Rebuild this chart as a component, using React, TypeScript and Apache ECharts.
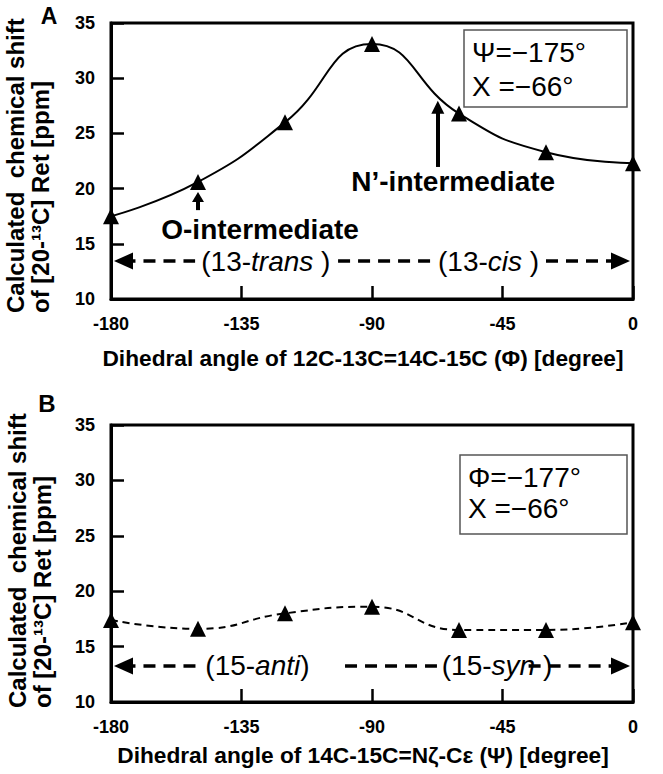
import React, { useEffect, useRef } from 'react';
import * as echarts from 'echarts';

const FONT = '"Liberation Sans", Arial, Helvetica, sans-serif';

// ---- data ----
const angleTicks = [-180, -135, -90, -45, 0];
const shiftTicks = [10, 15, 20, 25, 30, 35];
const anglesA = [-180, -150, -120, -90, -60, -30, 0];
const shiftA = [17.5, 20.6, 26.0, 33.1, 26.8, 23.3, 22.3];
const anglesB = [-180, -150, -120, -90, -60, -30, 0];
const shiftB = [17.4, 16.6, 18.0, 18.6, 16.5, 16.5, 17.2];

const titleA = 'Dihedral angle of 12C-13C=14C-15C (Φ) [degree]';
const titleB = 'Dihedral angle of 14C-15C=Nζ-Cε (Ψ) [degree]';
const yTitle1 = 'Calculated  chemical shift';
const yTitle2 = 'of [20-¹³C] Ret [ppm]';
const boxTextA = ['Ψ=−175°', 'X =−66°'];
const boxTextB = ['Φ=−177°', 'X =−66°'];
const rowTextA = ['(13-{i|trans} )', '(13-{i|cis} )'];
const rowTextB = ['(15-{i|anti})', '(15-{i|syn} )'];
const labelO = 'O-intermediate';
const labelN = 'N’-intermediate';

const BLACK = '#000';

function xAxis(gi: number) {
  return {
    type: 'value', gridIndex: gi,
    min: angleTicks[0], max: angleTicks[angleTicks.length - 1], interval: 45,
    axisLine: { show: true, onZero: false, lineStyle: { color: BLACK, width: 3 } },
    axisTick: { show: true, inside: true, length: 13, lineStyle: { color: BLACK, width: 2.5 } },
    axisLabel: { color: BLACK, fontSize: 18, fontWeight: 'bold', fontFamily: FONT, margin: 16 },
    splitLine: { show: false },
  };
}
function yAxis(gi: number) {
  return {
    type: 'value', gridIndex: gi,
    min: shiftTicks[0], max: shiftTicks[shiftTicks.length - 1], interval: 5,
    axisLine: { show: true, onZero: false, lineStyle: { color: BLACK, width: 3 } },
    axisTick: { show: true, inside: true, length: 13, lineStyle: { color: BLACK, width: 2.5 } },
    axisLabel: { color: BLACK, fontSize: 18, fontWeight: 'bold', fontFamily: FONT, margin: 16 },
    splitLine: { show: false },
  };
}

const dashStyle = { color: BLACK, width: 3.5, type: [12, 8] };
const ARROW = [17, 19];

function seg(x1: number, x2: number, y: number, startArrow: boolean, endArrow: boolean) {
  return [
    { coord: [x1, y], symbol: startArrow ? 'triangle' : 'none', symbolSize: ARROW, lineStyle: dashStyle },
    { coord: [x2, y], symbol: endArrow ? 'triangle' : 'none', symbolSize: ARROW },
  ];
}
function vArrow(x: number, y1: number, y2: number, head: number[]) {
  return [
    { coord: [x, y1], symbol: 'none', lineStyle: { color: BLACK, width: 4, type: 'solid' } },
    { coord: [x, y2], symbol: 'triangle', symbolSize: head },
  ];
}
const rich = { i: { fontStyle: 'italic', fontSize: 28, fontFamily: FONT, color: BLACK } };
function textPoint(x: number, y: number, text: string, bold: boolean) {
  return {
    coord: [x, y],
    symbol: 'rect', symbolSize: 1, itemStyle: { color: 'rgba(0,0,0,0)' },
    label: {
      show: true, position: 'inside', formatter: text, color: BLACK,
      fontSize: 28, fontWeight: bold ? 'bold' : 'normal', fontFamily: FONT, rich,
    },
  };
}

function gText(text: string, x: number, y: number, size: number, opts: any = {}) {
  return {
    type: 'text', x, y, rotation: opts.rotation || 0, z: 10,
    style: {
      text, fill: BLACK, fontSize: size, fontWeight: opts.bold ? 'bold' : 'normal', fontFamily: FONT,
      align: opts.align || 'left', verticalAlign: 'middle',
      textAlign: opts.align || 'left', textVerticalAlign: 'middle',
    },
  };
}

function buildOption() {
  const rowYA = 13.44;
  const rowYB = 13.25;
  return {
    animation: false,
    backgroundColor: '#fff',
    grid: [
      { left: 111, top: 23, width: 522, height: 276, show: true, borderColor: BLACK, borderWidth: 3, backgroundColor: 'transparent' },
      { left: 111, top: 425, width: 522, height: 277, show: true, borderColor: BLACK, borderWidth: 3, backgroundColor: 'transparent' },
    ],
    xAxis: [xAxis(0), xAxis(1)],
    yAxis: [yAxis(0), yAxis(1)],
    series: [
      {
        type: 'line', xAxisIndex: 0, yAxisIndex: 0,
        data: anglesA.map((a, i) => [a, shiftA[i]]),
        smooth: true, symbol: 'triangle', symbolSize: 16,
        itemStyle: { color: BLACK }, lineStyle: { color: BLACK, width: 2 },
        markLine: {
          silent: true, animation: false, label: { show: false }, symbol: 'none',
          lineStyle: dashStyle, itemStyle: { color: BLACK },
          data: [
            seg(-175.7, -151, rowYA, true, false),
            seg(-101.7, -68, rowYA, false, false),
            seg(-30, -4.3, rowYA, false, true),
            vArrow(-150, 18.05, 19.25, [12, 10]),
            vArrow(-67.3, 21.96, 27.37, [13, 13]),
          ],
        },
        markPoint: {
          silent: true, animation: false,
          data: [
            textPoint(-126.6, rowYA, rowTextA[0], false),
            textPoint(-49.8, rowYA, rowTextA[1], false),
            textPoint(-128.6, 16.3, labelO, true),
            textPoint(-62, 20.6, labelN, true),
          ],
        },
      },
      {
        type: 'line', xAxisIndex: 1, yAxisIndex: 1,
        data: anglesB.map((a, i) => [a, shiftB[i]]),
        smooth: true, symbol: 'triangle', symbolSize: 16,
        itemStyle: { color: BLACK }, lineStyle: { color: BLACK, width: 2, type: [7, 5] },
        markLine: {
          silent: true, animation: false, label: { show: false }, symbol: 'none',
          lineStyle: dashStyle, itemStyle: { color: BLACK },
          data: [
            seg(-175.7, -149, rowYB, true, false),
            seg(-99.3, -67.6, rowYB, false, false),
            seg(-36, -4.3, rowYB, false, true),
          ],
        },
        markPoint: {
          silent: true, animation: false,
          data: [
            textPoint(-129.5, rowYB, rowTextB[0], false),
            textPoint(-46.9, rowYB, rowTextB[1], false),
          ],
        },
      },
    ],
    graphic: [
      { type: 'rect', shape: { x: 464, y: 30, width: 163, height: 77 }, style: { fill: '#fff', stroke: '#555', lineWidth: 1.5 }, z: 5 },
      gText(boxTextA[0], 472, 52, 28),
      gText(boxTextA[1], 472, 86, 28),
      { type: 'rect', shape: { x: 460, y: 455, width: 167, height: 79 }, style: { fill: '#fff', stroke: '#555', lineWidth: 1.5 }, z: 5 },
      gText(boxTextB[0], 468, 477, 28),
      gText(boxTextB[1], 468, 508, 28),
      gText('A', 49, 16, 23, { bold: true, align: 'center' }),
      gText('B', 47, 403, 24, { bold: true, align: 'center' }),
      gText(titleA, 363, 358, 22.7, { bold: true, align: 'center' }),
      gText(titleB, 363, 755, 22.7, { bold: true, align: 'center' }),
      gText(yTitle1, 15, 313, 24, { bold: true, rotation: Math.PI / 2 }),
      gText(yTitle2, 40, 313, 24, { bold: true, rotation: Math.PI / 2 }),
      gText(yTitle1, 17, 708, 24, { bold: true, rotation: Math.PI / 2 }),
      gText(yTitle2, 42, 708, 24, { bold: true, rotation: Math.PI / 2 }),
    ],
  };
}

export default function App() {
  const ref = useRef<HTMLDivElement>(null);
  useEffect(() => {
    const chart = echarts.init(ref.current!, null, { renderer: 'svg' });
    chart.setOption(buildOption() as any);
    return () => chart.dispose();
  }, []);
  return (
    <div
      ref={ref}
      style={{ position: 'fixed', left: 0, top: 0, width: 663, height: 774, background: '#fff' }}
    />
  );
}
